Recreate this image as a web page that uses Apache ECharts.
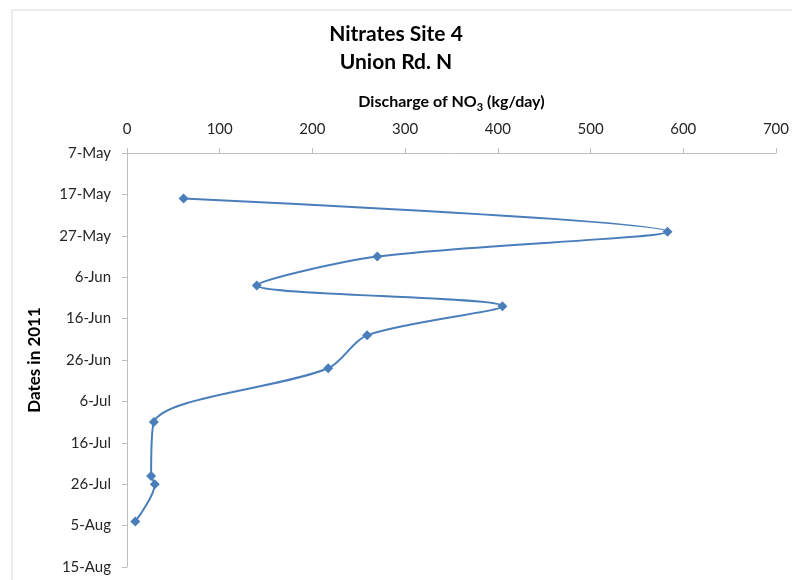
<!DOCTYPE html>
<html>
<head>
<meta charset="utf-8">
<script src="https://cdn.jsdelivr.net/npm/echarts@6/dist/echarts.min.js"></script>
<style>html,body{margin:0;padding:0;background:#fff;}#c{width:792px;height:580px;}</style>
</head>
<body>
<div id="c"></div>
<script>
// ---- data ----
var sampleDates = ['2011-05-18','2011-05-26','2011-06-01','2011-06-08','2011-06-13','2011-06-20','2011-06-28','2011-07-11','2011-07-24','2011-07-26','2011-08-04'];
var dischargeValues = [61, 583, 270, 140, 405, 259, 217, 29, 26, 30, 9];
var dateTickLabels = ['7-May','17-May','27-May','6-Jun','16-Jun','26-Jun','6-Jul','16-Jul','26-Jul','5-Aug','15-Aug'];
var dischargeTicks = [0, 100, 200, 300, 400, 500, 600, 700];
var titleLines = ['Nitrates Site 4', 'Union Rd. N'];

function dayOffset(s) {
  var a = Date.UTC(2011, 4, 7);
  var p = s.split('-');
  var b = Date.UTC(+p[0], +p[1] - 1, +p[2]);
  return Math.round((b - a) / 86400000);
}
var seriesData = sampleDates.map(function (d, i) { return [dischargeValues[i], dayOffset(d)]; });

var FONT = 'Lato, "Open Sans", sans-serif';
var chart = echarts.init(document.getElementById('c'), null, {renderer: 'canvas'});
chart.setOption({
  backgroundColor: '#fff',
  animation: false,
  graphic: [{
    type: 'rect', shape: {x: 12, y: 10, width: 800, height: 600},
    style: {fill: 'none', stroke: '#d9d9d9', lineWidth: 1}, silent: true, z: -1
  }],
  title: {
    text: titleLines.join('\n'),
    left: 'center', top: 15,
    textStyle: {fontFamily: FONT, fontSize: 21, fontWeight: 'bold', color: '#000', lineHeight: 28}
  },
  grid: {left: 127, right: 13, top: 153, bottom: 13, containLabel: false},
  xAxis: {
    type: 'value', position: 'top', min: dischargeTicks[0], max: dischargeTicks[dischargeTicks.length - 1], interval: 100,
    name: '{b|Discharge of NO}{s|3}{b| (kg/day)}',
    nameLocation: 'middle', nameGap: 43,
    nameTextStyle: {
      rich: {
        b: {fontFamily: FONT, fontSize: 16, fontWeight: 'bold', color: '#000', lineHeight: 20, verticalAlign: 'bottom'},
        s: {fontFamily: FONT, fontSize: 11, fontWeight: 'bold', color: '#000', lineHeight: 14, verticalAlign: 'bottom', padding: [0, 0, -3, 0]}
      }
    },
    axisLine: {show: true, lineStyle: {color: '#bfbfbf', width: 1}},
    axisTick: {show: true, length: 5, lineStyle: {color: '#bfbfbf'}},
    axisLabel: {fontFamily: FONT, fontSize: 15, color: '#262626', margin: 16},
    splitLine: {show: false}
  },
  yAxis: {
    type: 'value', inverse: true, min: 0, max: 100, interval: 10,
    name: 'Dates in 2011', nameLocation: 'middle', nameGap: 84, nameRotate: 90,
    nameTextStyle: {fontFamily: FONT, fontSize: 17, fontWeight: 'bold', color: '#000'},
    axisLine: {show: true, lineStyle: {color: '#bfbfbf', width: 1}},
    axisTick: {show: true, length: 5, lineStyle: {color: '#bfbfbf'}},
    axisLabel: {
      fontFamily: FONT, fontSize: 15, color: '#262626', margin: 16,
      formatter: function (v) { return dateTickLabels[Math.round(v / 10)] || ''; }
    },
    splitLine: {show: false}
  },
  series: [{
    type: 'line',
    data: seriesData,
    smooth: 0.3,
    symbol: 'diamond', symbolSize: 10,
    lineStyle: {color: '#4a7ebb', width: 2},
    itemStyle: {color: '#4a7ebb'}
  }]
});
</script>
</body>
</html>
